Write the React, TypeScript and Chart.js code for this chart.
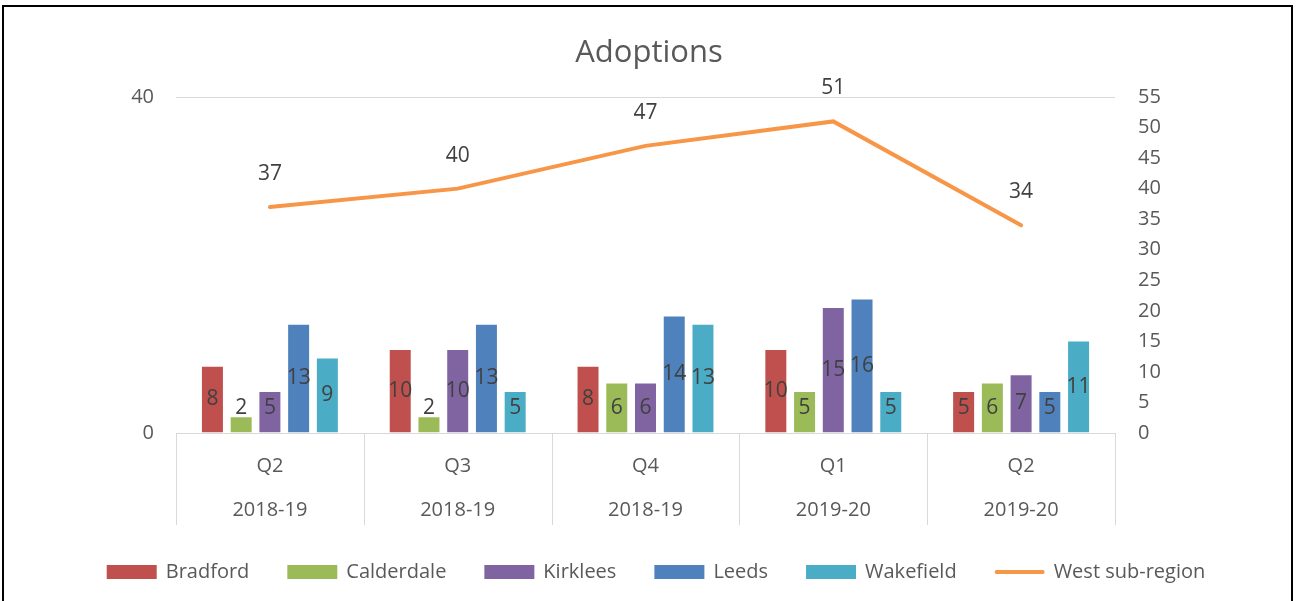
import React, { useEffect, useRef } from 'react';
import { Chart, registerables } from 'chart.js';

Chart.register(...registerables);

const quarters = ['Q2', 'Q3', 'Q4', 'Q1', 'Q2'];
const years = ['2018-19', '2018-19', '2018-19', '2019-20', '2019-20'];
const bradford = [8, 10, 8, 10, 5];
const calderdale = [2, 2, 6, 5, 6];
const kirklees = [5, 10, 6, 15, 7];
const leeds = [13, 13, 14, 16, 5];
const wakefield = [9, 5, 13, 5, 11];
const westSubRegion = [37, 40, 47, 51, 34];
const leftAxisMax = 40;
const rightAxisMax = 55;
const rightAxisStep = 5;
const titleText = 'Adoptions';

const FONT = '"Open Sans", "Segoe UI", sans-serif';
const TEXT = '#595959';
const LABEL = '#404040';

const overlay = {
  id: 'overlay',
  afterDatasetsDraw(chart: any) {
    const ctx = chart.ctx;
    const { left, right, bottom } = chart.chartArea;
    ctx.save();
    // category separators
    ctx.strokeStyle = '#d9d9d9';
    ctx.lineWidth = 1;
    const n = chart.data.labels.length;
    const w = (right - left) / n;
    for (let i = 0; i <= n; i++) {
      const x = Math.round(left + i * w) + 0.5;
      ctx.beginPath();
      ctx.moveTo(x, bottom);
      ctx.lineTo(x, bottom + 92);
      ctx.stroke();
    }
    // data labels
    ctx.font = `21px ${FONT}`;
    ctx.fillStyle = LABEL;
    ctx.textAlign = 'center';
    ctx.textBaseline = 'middle';
    chart.data.datasets.forEach((ds: any, di: number) => {
      const meta = chart.getDatasetMeta(di);
      meta.data.forEach((el: any, i: number) => {
        const v = ds.data[i];
        if (ds.type === 'line') {
          ctx.fillText(String(v), el.x, el.y - 33);
        } else {
          const cy = Math.min((el.y + el.base) / 2, el.base - 24);
          ctx.fillText(String(v), el.x, cy);
        }
      });
    });
    // title
    ctx.font = `31px ${FONT}`;
    ctx.fillStyle = TEXT;
    ctx.fillText(titleText, 649, 53);
    // legend
    ctx.font = `20px ${FONT}`;
    ctx.textAlign = 'left';
    const boxW = 50;
    const gapText = 9;
    const gapItem = 38;
    const items = chart.data.datasets.map((ds: any) => ({
      label: ds.label,
      color: ds.type === 'line' ? ds.borderColor : ds.backgroundColor,
      isLine: ds.type === 'line',
    }));
    items.sort((a: any, b: any) => (a.isLine ? 1 : 0) - (b.isLine ? 1 : 0));
    const widths = items.map((it: any) => boxW + gapText + ctx.measureText(it.label).width);
    const total = widths.reduce((a: number, b: number) => a + b, 0) + gapItem * (items.length - 1);
    let x = 656 - total / 2;
    const ly = 572;
    items.forEach((it: any, i: number) => {
      if (it.isLine) {
        ctx.strokeStyle = it.color;
        ctx.lineWidth = 4;
        ctx.lineCap = 'round';
        ctx.beginPath();
        ctx.moveTo(x + 2, ly);
        ctx.lineTo(x + boxW - 2, ly);
        ctx.stroke();
      } else {
        ctx.fillStyle = it.color;
        ctx.fillRect(x, ly - 7, boxW, 14);
      }
      ctx.fillStyle = TEXT;
      ctx.fillText(it.label, x + boxW + gapText, ly);
      x += widths[i] + gapItem;
    });
    ctx.restore();
  },
};

export default function App() {
  const ref = useRef<HTMLCanvasElement>(null);

  useEffect(() => {
    if (!ref.current) return;
    const barDs = (label: string, data: number[], color: string) => ({
      type: 'bar' as const,
      label,
      data,
      backgroundColor: color,
      borderColor: 'rgba(255,255,255,0.7)',
      borderWidth: 1,
      yAxisID: 'y',
      categoryPercentage: 0.765,
      barPercentage: 0.8,
      order: 2,
    });
    const chart = new Chart(ref.current, {
      type: 'bar',
      data: {
        labels: quarters.map((q, i) => [q, years[i]]),
        datasets: [
          barDs('Bradford', bradford, '#C0504D'),
          barDs('Calderdale', calderdale, '#9BBB59'),
          barDs('Kirklees', kirklees, '#8064A2'),
          barDs('Leeds', leeds, '#4F81BD'),
          barDs('Wakefield', wakefield, '#4BACC6'),
          {
            type: 'line' as const,
            label: 'West sub-region',
            data: westSubRegion,
            borderColor: '#F79646',
            backgroundColor: '#F79646',
            borderWidth: 4,
            borderCapStyle: 'round',
            pointRadius: 0,
            tension: 0,
            yAxisID: 'y1',
            order: 1,
          } as any,
        ],
      },
      options: {
        animation: false,
        responsive: false,
        devicePixelRatio: 1,
        layout: { padding: { top: 97, bottom: 76, left: 0, right: 0 } },
        plugins: {
          legend: { display: false },
          title: { display: false },
          tooltip: { enabled: false },
        },
        scales: {
          x: {
            grid: { display: false, drawTicks: false },
            border: { display: false },
            ticks: {
              font: { family: FONT, size: 20, lineHeight: 2.2 },
              color: TEXT,
              padding: 11,
              maxRotation: 0,
              autoSkip: false,
            },
            afterFit: (s: any) => {
              s.height = 92;
            },
          },
          y: {
            position: 'left',
            min: 0,
            max: leftAxisMax,
            ticks: {
              stepSize: leftAxisMax,
              padding: 22,
              font: { family: FONT, size: 20 },
              color: TEXT,
            },
            grid: { color: '#d9d9d9', drawTicks: false, lineWidth: 1 },
            border: { display: false },
            afterFit: (s: any) => {
              s.width = 176;
            },
          },
          y1: {
            position: 'right',
            min: 0,
            max: rightAxisMax,
            ticks: {
              stepSize: rightAxisStep,
              padding: 23,
              font: { family: FONT, size: 20 },
              color: TEXT,
            },
            grid: { display: false, drawTicks: false },
            border: { display: false },
            afterFit: (s: any) => {
              s.width = 181;
            },
          },
        },
      } as any,
      plugins: [overlay],
    });
    return () => chart.destroy();
  }, []);

  return (
    <div style={{ position: 'fixed', left: 0, top: 0, width: 1296, height: 601, background: '#fff', overflow: 'hidden' }}>
      <canvas ref={ref} width={1296} height={601} style={{ position: 'absolute', left: 0, top: 0 }} />
      <div
        style={{
          position: 'absolute',
          left: 2,
          top: 5,
          width: 1291,
          height: 640,
          boxSizing: 'border-box',
          border: '2px solid #000',
          pointerEvents: 'none',
        }}
      />
    </div>
  );
}
